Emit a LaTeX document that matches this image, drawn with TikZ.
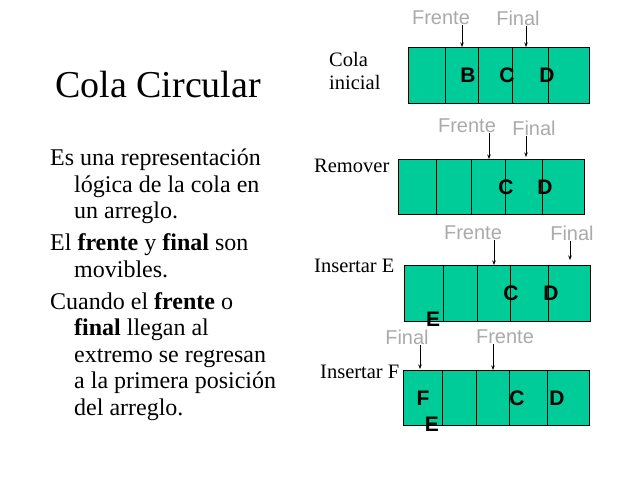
\documentclass[tikz,border=0pt]{standalone}
\usepackage{fontspec}
\setmainfont{Liberation Serif}
\setsansfont{Liberation Sans}
\usetikzlibrary{arrows.meta}
\definecolor{colaverde}{RGB}{0,204,153}
\definecolor{rotulo}{RGB}{170,170,170}
\newcommand{\sangria}{\hspace*{24pt}}

\begin{document}
\begin{tikzpicture}[x=1pt,y=-1pt,
  arreglo/.style={draw=black, fill=colaverde, line width=0.9pt, minimum height=56pt, anchor=north west, inner sep=0pt},
  divisor/.style={line width=0.9pt},
  letra/.style={font=\sffamily\bfseries\fontsize{21}{24}\selectfont, inner sep=0pt},
  puntero/.style={font=\sffamily\fontsize{20}{24}\selectfont, text=rotulo, inner sep=0pt},
  paso/.style={font=\fontsize{20.5}{23}\selectfont, inner sep=0pt, align=left},
  flecha/.style={-{Stealth[length=4.5pt,width=3.5pt]}, line width=0.7pt}]
\useasboundingbox (0,0) rectangle (638,479);
% title and description
\node[font=\fontsize{38}{44}\selectfont, anchor=west, inner sep=0pt] (titulo) at (55,85) {Cola Circular};
\node[font=\fontsize{24}{26.5}\selectfont, align=left, inner sep=0pt, anchor=north west] (desc) at (50,149) {%
  Es una representación\\ \sangria lógica de la cola en\\ \sangria un arreglo.\\[5.5pt]
  El \textbf{frente} y \textbf{final} son\\ \sangria movibles.\\[5.5pt]
  Cuando el \textbf{frente} o\\ \sangria\textbf{final} llegan al\\ \sangria extremo se regresan\\
  \sangria a la primera posición\\ \sangria del arreglo.};

% row 1: cola inicial
\node[paso, anchor=west] (paso1) at (329,71) {Cola\\inicial};
\node[arreglo, minimum width=181pt] (cola1) at (408,47) {};
\foreach \x in {445,478,512,548} \draw[divisor] (\x,47) -- (\x,103);
\node[letra] (b1) at (468,75) {B};
\node[letra] (c1) at (507,75) {C};
\node[letra] (d1) at (547,75) {D};
\node[puntero] (fr1) at (441,18) {Frente};
\node[puntero] (fi1) at (518,18) {Final};
\coordinate (pfr1) at (462,47);
\coordinate (pfi1) at (526,47);
\draw[flecha] (fr1.south -| pfr1) -- (pfr1);
\draw[flecha] (fi1.south -| pfi1) -- (pfi1);

% row 2: remover
\node[paso, anchor=base west] (paso2) at (314,172) {Remover};
\node[arreglo, minimum width=186pt, minimum height=55pt] (cola2) at (398,159) {};
\foreach \x in {436,471,505,542} \draw[divisor] (\x,159) -- (\x,214);
\node[letra] (c2) at (506,187) {C};
\node[letra] (d2) at (545,187) {D};
\node[puntero] (fr2) at (467,126) {Frente};
\node[puntero] (fi2) at (534,128) {Final};
\coordinate (pfr2) at (489,159);
\coordinate (pfi2) at (526,157);
\draw[flecha] (fr2.south -| pfr2) -- (pfr2);
\draw[flecha] (fi2.south -| pfi2) -- (pfi2);

% row 3: insertar E
\node[paso, anchor=base west] (paso3) at (314,272) {Insertar E};
\node[arreglo, minimum width=186pt] (cola3) at (404,265) {};
\foreach \x in {443,477,510,548} \draw[divisor] (\x,265) -- (\x,321);
\node[letra] (c3) at (511,293) {C};
\node[letra] (d3) at (551,293) {D};
\node[letra] (e3) at (433,319) {E};
\node[puntero] (fr3) at (473,233) {Frente};
\node[puntero] (fi3) at (572,233) {Final};
\coordinate (pfr3) at (494,265);
\coordinate (pfi3) at (570,260);
\draw[flecha] (fr3.south -| pfr3) -- (pfr3);
\draw[flecha] (fi3.south -| pfi3) -- (pfi3);

% row 4: insertar F
\node[paso, anchor=base west] (paso4) at (320,378) {Insertar F};
\node[arreglo, minimum width=186pt, minimum height=55pt] (cola4) at (403,370) {};
\foreach \x in {442,476,509,547} \draw[divisor] (\x,370) -- (\x,425);
\node[letra] (f4) at (423,398) {F};
\node[letra] (c4) at (517,398) {C};
\node[letra] (d4) at (557,398) {D};
\node[letra] (e4) at (432,424) {E};
\node[puntero] (fi4) at (407,337) {Final};
\node[puntero] (fr4) at (505,337) {Frente};
\coordinate (pfi4) at (420,369);
\coordinate (pfr4) at (493,370);
\draw[flecha] (fi4.south -| pfi4) -- (pfi4);
\draw[flecha] (fr4.south -| pfr4) -- (pfr4);
\end{tikzpicture}
\end{document}
